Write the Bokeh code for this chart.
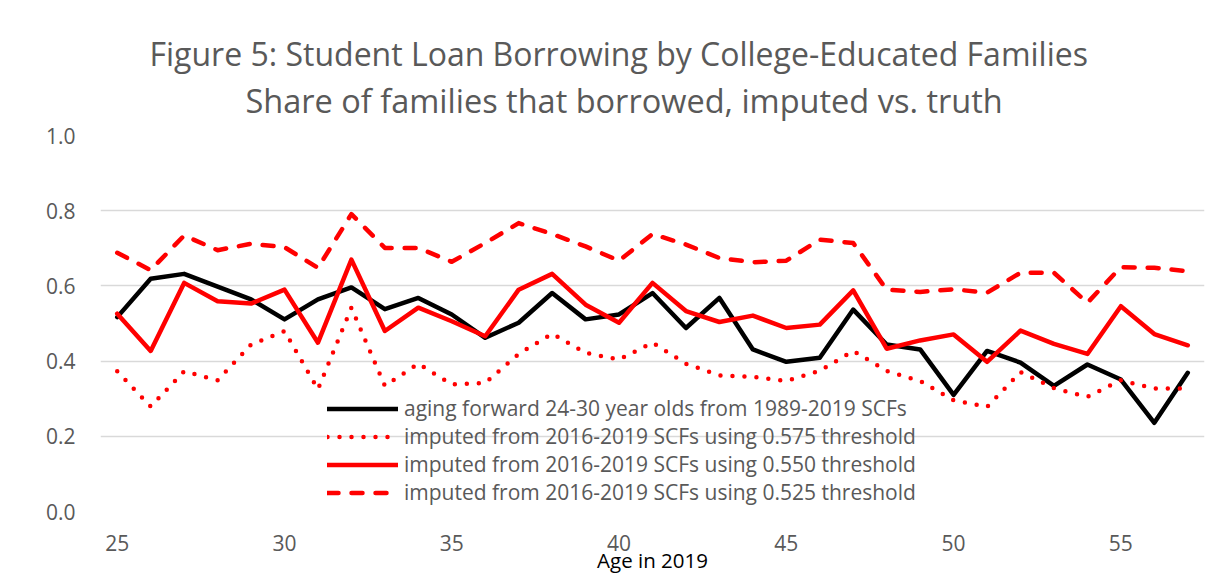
from bokeh.plotting import figure
from bokeh.models import Range1d, FixedTicker, Legend, LegendItem, Title, NumeralTickFormatter
from bokeh.embed import file_html
from bokeh.resources import INLINE

ages = list(range(25, 58))
aging_forward = [0.517, 0.619, 0.632, 0.598, 0.564, 0.511, 0.564, 0.596, 0.538, 0.568,
                 0.524, 0.462, 0.502, 0.581, 0.511, 0.524, 0.581, 0.488, 0.568, 0.431,
                 0.398, 0.409, 0.537, 0.444, 0.431, 0.310, 0.427, 0.396, 0.334, 0.391,
                 0.351, 0.236, 0.369]
imputed_0575 = [0.373, 0.279, 0.373, 0.349, 0.444, 0.480, 0.325, 0.542, 0.334, 0.393,
                0.338, 0.342, 0.419, 0.473, 0.422, 0.404, 0.449, 0.393, 0.362, 0.358,
                0.347, 0.374, 0.427, 0.374, 0.347, 0.296, 0.278, 0.371, 0.328, 0.305,
                0.349, 0.327, 0.327]
imputed_0550 = [0.526, 0.427, 0.608, 0.559, 0.553, 0.590, 0.449, 0.670, 0.480, 0.542,
                0.506, 0.466, 0.590, 0.632, 0.550, 0.502, 0.608, 0.533, 0.504, 0.521,
                0.488, 0.497, 0.588, 0.433, 0.455, 0.471, 0.398, 0.481, 0.446, 0.419,
                0.546, 0.472, 0.442]
imputed_0525 = [0.688, 0.642, 0.734, 0.695, 0.712, 0.703, 0.648, 0.791, 0.701, 0.701,
                0.664, 0.714, 0.767, 0.738, 0.705, 0.667, 0.738, 0.710, 0.674, 0.663,
                0.667, 0.723, 0.714, 0.590, 0.584, 0.591, 0.582, 0.635, 0.635, 0.555,
                0.650, 0.648, 0.639]

x_ticks = [25, 30, 35, 40, 45, 50, 55]
y_ticks = [0.0, 0.2, 0.4, 0.6, 0.8, 1.0]
title_lines = ["Figure 5: Student Loan Borrowing by College-Educated Families",
               "Share of families that borrowed, imputed vs. truth"]
x_title = "Age in 2019"
series_labels = ["aging forward 24-30 year olds from 1989-2019 SCFs",
                 "imputed from 2016-2019 SCFs using 0.575 threshold",
                 "imputed from 2016-2019 SCFs using 0.550 threshold",
                 "imputed from 2016-2019 SCFs using 0.525 threshold"]

FONT = "Open Sans"
GREY = "#595959"

p = figure(width=1227, height=582, output_backend="svg", toolbar_location=None,
           x_range=Range1d(24.5, 57.5), y_range=Range1d(0, 1.0),
           min_border_left=100, min_border_right=23, min_border_top=135, min_border_bottom=71)
p.outline_line_color = None
p.background_fill_color = "white"
p.border_fill_color = "white"

p.xgrid.visible = False
p.ygrid.ticker = FixedTicker(ticks=y_ticks)
p.ygrid.grid_line_color = "#d9d9d9"
p.ygrid.grid_line_width = 1.5

p.xaxis.ticker = FixedTicker(ticks=x_ticks)
p.yaxis.ticker = FixedTicker(ticks=y_ticks)
p.yaxis.formatter = NumeralTickFormatter(format="0.0")
for ax in (p.xaxis, p.yaxis):
    ax.axis_line_color = None
    ax.major_tick_line_color = None
    ax.minor_tick_line_color = None
    ax.major_label_text_font = FONT
    ax.major_label_text_font_size = "21px"
    ax.major_label_text_color = GREY
p.xaxis.major_label_standoff = 17
p.yaxis.major_label_standoff = 19
p.xaxis.axis_label = x_title
p.xaxis.axis_label_text_font = FONT
p.xaxis.axis_label_text_font_size = "20.5px"
p.xaxis.axis_label_text_font_style = "normal"
p.xaxis.axis_label_text_color = "black"
p.xaxis.axis_label_standoff = -8

common = dict(line_width=4.5, line_join="round", line_cap="round")
r1 = p.line(ages, aging_forward, line_color="black", **common)
r2 = p.line(ages, imputed_0575, line_color="#ff0000", line_dash="0 12", **common)
r3 = p.line(ages, imputed_0550, line_color="#ff0000", **common)
r4 = p.line(ages, imputed_0525, line_color="#ff0000", line_dash="11 13", **common)

legend = Legend(items=[LegendItem(label=series_labels[i], renderers=[r]) for i, r in enumerate([r1, r2, r3, r4])],
                location=(227, 5), orientation="vertical", glyph_width=71, glyph_height=27,
                label_height=27, spacing=0, padding=0, margin=0, label_standoff=6,
                background_fill_alpha=0, border_line_alpha=0,
                label_text_font=FONT, label_text_font_size="21px", label_text_color=GREY)
p.add_layout(legend)

p.add_layout(Title(text=title_lines[1], align="left", offset=145, text_font=FONT,
                   text_font_size="32.5px", text_font_style="normal", text_color=GREY,
                   standoff=25), "above")
p.add_layout(Title(text=title_lines[0], align="left", offset=49, text_font=FONT,
                   text_font_size="32px", text_font_style="normal", text_color=GREY,
                   standoff=-22), "above")

open("out.html", "w").write(file_html(p, INLINE))
